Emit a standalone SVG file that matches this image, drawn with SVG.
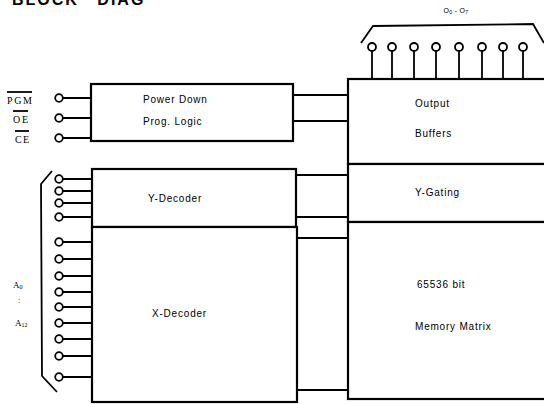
<svg xmlns="http://www.w3.org/2000/svg" width="544" height="404" viewBox="0 0 544 404">
<style>
.box{fill:#fff;stroke:#000;stroke-width:2.2}
.ln{stroke:#000;stroke-width:2;fill:none}
.thin{stroke:#000;stroke-width:1.8;fill:none}
.pin{fill:#fff;stroke:#000;stroke-width:1.8}
.t{font-family:"Liberation Sans",Arial,sans-serif;font-size:10px;letter-spacing:0.8px;fill:#000}
.s{font-family:"Liberation Serif","Times New Roman",serif;font-size:10px;fill:#000}
.title{font-family:"Liberation Sans",Arial,sans-serif;font-size:16px;font-weight:bold;letter-spacing:2px;word-spacing:12px;fill:#000}
</style>
<rect width="544" height="404" fill="#fff"/>
<text class="title" x="12" y="5">BLOCK DIAG</text>

<g id="connectors">
  <line class="ln" x1="293" y1="95" x2="348" y2="95"/>
  <line class="ln" x1="293" y1="121" x2="348" y2="121"/>
  <line class="ln" x1="296" y1="175" x2="348" y2="175"/>
  <line class="ln" x1="296" y1="217" x2="348" y2="217"/>
  <line class="ln" x1="297" y1="238" x2="348" y2="238"/>
  <line class="ln" x1="297" y1="390" x2="348" y2="390"/>
</g>

<g id="powerdown">
  <rect class="box" x="91" y="84" width="202" height="57"/>
  <text class="t" x="143" y="103">Power Down</text>
  <text class="t" x="143" y="125">Prog. Logic</text>
</g>

<g id="output">
  <rect class="box" x="348" y="79" width="200" height="85"/>
  <text class="t" x="415" y="107">Output</text>
  <text class="t" x="415" y="137">Buffers</text>
</g>

<g id="ygating">
  <rect class="box" x="348" y="164" width="200" height="58"/>
  <text class="t" x="415" y="196">Y-Gating</text>
</g>

<g id="memory">
  <rect class="box" x="348" y="222" width="200" height="177"/>
  <text class="t" x="417" y="288">65536 bit</text>
  <text class="t" x="415" y="330">Memory Matrix</text>
</g>

<g id="ydecoder">
  <rect class="box" x="92" y="169" width="204" height="58"/>
  <text class="t" x="148" y="202">Y-Decoder</text>
</g>

<g id="xdecoder">
  <rect class="box" x="92" y="227" width="205" height="175"/>
  <text class="t" x="152" y="317">X-Decoder</text>
</g>

<g id="outputs">
  <path class="thin" d="M361 43 L373 26 L533 24 L544 43"/>
  <text class="t" x="456" y="13" text-anchor="middle" style="font-size:7px;letter-spacing:0.3px">O<tspan font-size="5" dy="1">0</tspan><tspan dy="-1"> - O</tspan><tspan font-size="5" dy="1">7</tspan></text>
  <g class="thin">
    <line x1="372" y1="51" x2="372" y2="79"/>
    <line x1="392" y1="51" x2="392" y2="79"/>
    <line x1="414" y1="51" x2="414" y2="79"/>
    <line x1="436" y1="51" x2="436" y2="79"/>
    <line x1="459" y1="51" x2="459" y2="79"/>
    <line x1="482" y1="51" x2="482" y2="79"/>
    <line x1="503" y1="51" x2="503" y2="79"/>
    <line x1="523" y1="51" x2="523" y2="79"/>
  </g>
  <circle class="pin" cx="372" cy="47" r="4"/>
  <circle class="pin" cx="392" cy="47" r="4"/>
  <circle class="pin" cx="414" cy="47" r="4"/>
  <circle class="pin" cx="436" cy="47" r="4"/>
  <circle class="pin" cx="459" cy="47" r="4"/>
  <circle class="pin" cx="482" cy="47" r="4"/>
  <circle class="pin" cx="503" cy="47" r="4"/>
  <circle class="pin" cx="523" cy="47" r="4"/>
</g>

<g id="control">
  <g class="ln">
    <line x1="62" y1="98" x2="91" y2="98"/>
    <line x1="62" y1="118" x2="91" y2="118"/>
    <line x1="62" y1="138" x2="91" y2="138"/>
  </g>
  <circle class="pin" cx="59" cy="98" r="3.8"/>
  <circle class="pin" cx="59" cy="118" r="3.8"/>
  <circle class="pin" cx="59" cy="138" r="3.8"/>
  <text class="s" x="7" y="104" textLength="25">PGM</text>
  <line class="thin" x1="7" y1="92" x2="32" y2="92" stroke-width="1.2"/>
  <text class="s" x="13" y="123" textLength="15">OE</text>
  <line class="thin" x1="13" y1="111" x2="28" y2="111" stroke-width="1.2"/>
  <text class="s" x="15" y="143" textLength="14">CE</text>
  <line class="thin" x1="15" y1="131" x2="29" y2="131" stroke-width="1.2"/>
</g>

<g id="address">
  <path class="thin" d="M52 171 L41 184 L42 376 L57 392"/>
  <g class="ln">
    <line x1="62" y1="179" x2="92" y2="179"/>
    <line x1="62" y1="191" x2="92" y2="191"/>
    <line x1="62" y1="203" x2="92" y2="203"/>
    <line x1="62" y1="217" x2="92" y2="217"/>
    <line x1="62" y1="242" x2="92" y2="242"/>
    <line x1="62" y1="259" x2="92" y2="259"/>
    <line x1="62" y1="276" x2="92" y2="276"/>
    <line x1="62" y1="292" x2="92" y2="292"/>
    <line x1="62" y1="307" x2="92" y2="307"/>
    <line x1="62" y1="323" x2="92" y2="323"/>
    <line x1="62" y1="339" x2="92" y2="339"/>
    <line x1="62" y1="356" x2="92" y2="356"/>
    <line x1="62" y1="377" x2="92" y2="377"/>
  </g>
  <circle class="pin" cx="59" cy="179" r="3.8"/>
  <circle class="pin" cx="59" cy="191" r="3.8"/>
  <circle class="pin" cx="59" cy="203" r="3.8"/>
  <circle class="pin" cx="59" cy="217" r="3.8"/>
  <circle class="pin" cx="59" cy="242" r="3.8"/>
  <circle class="pin" cx="59" cy="259" r="3.8"/>
  <circle class="pin" cx="59" cy="276" r="3.8"/>
  <circle class="pin" cx="59" cy="292" r="3.8"/>
  <circle class="pin" cx="59" cy="307" r="3.8"/>
  <circle class="pin" cx="59" cy="323" r="3.8"/>
  <circle class="pin" cx="59" cy="339" r="3.8"/>
  <circle class="pin" cx="59" cy="356" r="3.8"/>
  <circle class="pin" cx="59" cy="377" r="3.8"/>
  <text class="s" x="13" y="288" style="font-size:9px">A<tspan font-size="6" dy="1">0</tspan></text>
  <text class="s" x="18" y="303" style="font-size:8px">:</text>
  <text class="s" x="15" y="326" style="font-size:9px">A<tspan font-size="6" dy="1">12</tspan></text>
</g>
</svg>
